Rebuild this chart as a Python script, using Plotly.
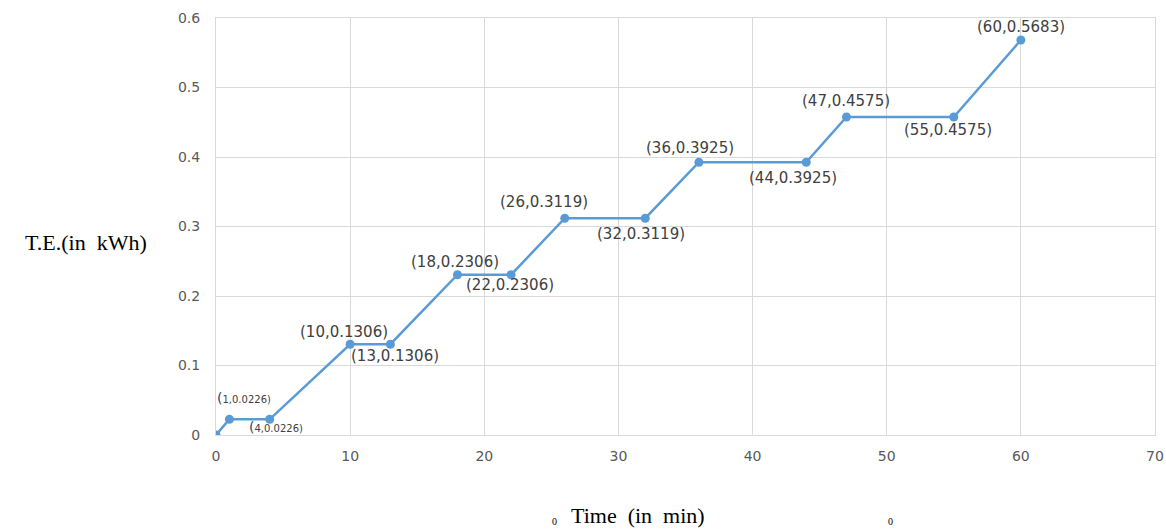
import plotly.graph_objects as go

time_min = [0, 1, 4, 10, 13, 18, 22, 26, 32, 36, 44, 47, 55, 60]
energy_kwh = [0, 0.0226, 0.0226, 0.1306, 0.1306, 0.2306, 0.2306, 0.3119, 0.3119,
              0.3925, 0.3925, 0.4575, 0.4575, 0.5683]
x_ticks = [0, 10, 20, 30, 40, 50, 60, 70]
y_ticks = [0, 0.1, 0.2, 0.3, 0.4, 0.5, 0.6]
y_tick_text = ["0", "0.1", "0.2", "0.3", "0.4", "0.5", "0.6"]

# label placement (pixel offsets) for each point, None = no label
label_offsets = [None, (15, 21), (6, -8), (-6, 12), (5, -12), (-2, 13), (-1, -10),
                 (-21, 16), (-4, -16), (-9, 14), (-13, -16), (0, 16), (-6, -13), (0, 13)]
label_sizes = [0, 10, 10, 15, 15, 15, 15, 15, 15, 15, 15, 15, 15, 15]

fig = go.Figure()
fig.add_trace(go.Scatter(
    x=time_min, y=energy_kwh, mode="lines+markers",
    line=dict(color="#5b9bd5", width=2.5),
    marker=dict(color="#5b9bd5", size=9),
    showlegend=False, hoverinfo="x+y",
))

annotations = []
for x, y, off, sz in zip(time_min, energy_kwh, label_offsets, label_sizes):
    if off is None:
        continue
    txt = f"({x},{y:.4f})"
    if sz < 12:
        txt = "<span style='font-size:14px;color:#3a3a6a'>(</span>" + txt[1:]
    annotations.append(dict(
        x=x, y=y, xref="x", yref="y", text=txt, showarrow=False,
        xshift=off[0], yshift=off[1],
        font=dict(family="DejaVu Sans", size=sz, color="#404040"),
    ))

annotations.append(dict(
    x=-0.1384, y=0.2765, xref="paper", yref="y", text="T.E.(in&nbsp;&nbsp;kWh)",
    showarrow=False, xanchor="center",
    font=dict(family="Liberation Serif", size=22, color="#000000"),
))
annotations.append(dict(
    x=0.449, y=-0.194, xref="paper", yref="paper", text="Time&nbsp;&nbsp;(in&nbsp;&nbsp;min)",
    showarrow=False, xanchor="center", yanchor="middle",
    font=dict(family="Liberation Serif", size=22, color="#000000"),
))
annotations.append(dict(x=0.36, y=-0.207, xref="paper", yref="paper", text="0",
                        showarrow=False, yanchor="middle",
                        font=dict(family="Liberation Serif", size=10, color="#000")))
annotations.append(dict(x=0.723, y=-0.207, xref="paper", yref="paper", text="0",
                        showarrow=False, yanchor="middle",
                        font=dict(family="Liberation Serif", size=10, color="#000")))

fig.update_layout(
    width=1166, height=529,
    margin=dict(l=216, r=11, t=18, b=94),
    paper_bgcolor="white", plot_bgcolor="white",
    annotations=annotations,
    xaxis=dict(
        range=[0, 70], tickvals=x_ticks, showgrid=True, gridcolor="#d9d9d9", gridwidth=1,
        zeroline=False, showline=True, linecolor="#d9d9d9", linewidth=1, mirror=True,
        tickfont=dict(family="DejaVu Sans", size=14, color="#595959"),
        ticks="", ticklabelstandoff=8, ticklabeloverflow="allow", automargin=False,
    ),
    yaxis=dict(
        range=[0, 0.6], tickvals=y_ticks, ticktext=y_tick_text, showgrid=True,
        gridcolor="#d9d9d9", gridwidth=1, zeroline=False, showline=True,
        linecolor="#d9d9d9", linewidth=1, mirror=True,
        tickfont=dict(family="DejaVu Sans", size=14, color="#595959"),
        ticks="", ticklabelstandoff=12, automargin=False,
    ),
)
fig.write_html("out.html", config={"displayModeBar": False},
               post_script="document.body.style.margin='0';document.body.style.overflow='hidden';")
